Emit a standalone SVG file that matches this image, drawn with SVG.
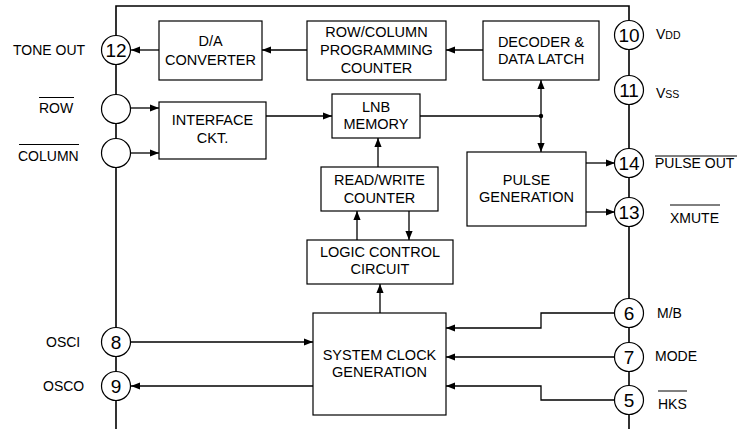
<svg xmlns="http://www.w3.org/2000/svg" width="739" height="429" viewBox="0 0 739 429">
<style>
text{font-family:"Liberation Sans",Arial,sans-serif;fill:#000}
.bt{font-size:14.5px;text-anchor:middle}
.lb{font-size:14px}
.pn{font-size:19px;text-anchor:middle}
.box{fill:#fff;stroke:#000;stroke-width:1.2}
.pin{fill:#fff;stroke:#000;stroke-width:1.2}
.ln{fill:none;stroke:#000;stroke-width:1.3}
.ov{stroke:#000;stroke-width:1}
</style>
<defs>
<marker id="ah" viewBox="0 0 10 8" refX="10" refY="4" markerWidth="9" markerHeight="8" markerUnits="userSpaceOnUse" orient="auto">
<path d="M0,0 L10,4 L0,8 z" fill="#000"/>
</marker>
</defs>
<g id="border" class="ln" style="stroke-width:1.6">
<path d="M116,429 L116,6 L629,6 L629,429"/>
</g>
<g id="connectors" class="ln">
<line x1="159" y1="50" x2="131" y2="50" marker-end="url(#ah)"/>
<line x1="307" y1="50" x2="262" y2="50" marker-end="url(#ah)"/>
<line x1="483" y1="50" x2="446" y2="50" marker-end="url(#ah)"/>
<line x1="131" y1="108" x2="159" y2="108" marker-end="url(#ah)"/>
<line x1="131" y1="153" x2="159" y2="153" marker-end="url(#ah)"/>
<line x1="266" y1="116" x2="332" y2="116" marker-end="url(#ah)"/>
<line x1="420" y1="116" x2="541" y2="116"/>
<line x1="541" y1="116" x2="541" y2="80" marker-end="url(#ah)"/>
<line x1="541" y1="116" x2="541" y2="152" marker-end="url(#ah)"/>
<line x1="378" y1="167" x2="378" y2="138" marker-end="url(#ah)"/>
<line x1="357" y1="240" x2="357" y2="211" marker-end="url(#ah)"/>
<line x1="409" y1="211" x2="409" y2="240" marker-end="url(#ah)"/>
<line x1="380" y1="313" x2="380" y2="284" marker-end="url(#ah)"/>
<line x1="131" y1="342" x2="313" y2="342" marker-end="url(#ah)"/>
<line x1="313" y1="386" x2="131" y2="386" marker-end="url(#ah)"/>
<polyline points="615,313 541,313 541,328 446,328" marker-end="url(#ah)"/>
<line x1="615" y1="357" x2="446" y2="357" marker-end="url(#ah)"/>
<polyline points="615,400 541,400 541,386 446,386" marker-end="url(#ah)"/>
<line x1="586" y1="163" x2="615" y2="163" marker-end="url(#ah)"/>
<line x1="586" y1="212" x2="615" y2="212" marker-end="url(#ah)"/>
<circle cx="541" cy="116" r="2.2" fill="#000" stroke="none"/>
</g>
<g id="da">
<rect class="box" x="159" y="21" width="103" height="59"/>
<text class="bt" x="210.5" y="46">D/A</text>
<text class="bt" x="210.5" y="65">CONVERTER</text>
</g>
<g id="rcpc">
<rect class="box" x="307" y="21" width="139" height="59"/>
<text class="bt" x="376.5" y="37">ROW/COLUMN</text>
<text class="bt" x="376.5" y="55">PROGRAMMING</text>
<text class="bt" x="376.5" y="73">COUNTER</text>
</g>
<g id="decoder">
<rect class="box" x="483" y="21" width="116" height="59"/>
<text class="bt" x="541" y="47">DECODER &amp;</text>
<text class="bt" x="541" y="64">DATA LATCH</text>
</g>
<g id="interface">
<rect class="box" x="159" y="102" width="107" height="57"/>
<text class="bt" x="212.5" y="125">INTERFACE</text>
<text class="bt" x="212.5" y="143">CKT.</text>
</g>
<g id="lnb">
<rect class="box" x="332" y="94" width="88" height="44"/>
<text class="bt" x="376" y="112">LNB</text>
<text class="bt" x="376" y="129">MEMORY</text>
</g>
<g id="rw">
<rect class="box" x="321" y="167" width="117" height="44"/>
<text class="bt" x="379.5" y="185">READ/WRITE</text>
<text class="bt" x="379.5" y="203">COUNTER</text>
</g>
<g id="pulse">
<rect class="box" x="467" y="152" width="119" height="74"/>
<text class="bt" x="526.5" y="185">PULSE</text>
<text class="bt" x="526.5" y="202">GENERATION</text>
</g>
<g id="logic">
<rect class="box" x="307" y="240" width="146" height="44"/>
<text class="bt" x="380" y="257">LOGIC CONTROL</text>
<text class="bt" x="380" y="274">CIRCUIT</text>
</g>
<g id="sysclk">
<rect class="box" x="313" y="313" width="133" height="102"/>
<text class="bt" x="379.5" y="360">SYSTEM CLOCK</text>
<text class="bt" x="379.5" y="377">GENERATION</text>
</g>
<g id="pin12">
<circle class="pin" cx="116" cy="50" r="14.5"/>
<text class="pn" x="116" y="57">12</text>
<text class="lb" x="13" y="55">TONE OUT</text>
</g>
<g id="pinrow">
<circle class="pin" cx="116" cy="109" r="14.5"/>
<text class="lb" x="39" y="113">ROW</text>
<line class="ov" x1="39" y1="97.5" x2="74" y2="97.5"/>
</g>
<g id="pincol">
<circle class="pin" cx="116" cy="153" r="14.5"/>
<text class="lb" x="18" y="161">COLUMN</text>
<line class="ov" x1="19" y1="144.5" x2="79" y2="144.5"/>
</g>
<g id="pin8">
<circle class="pin" cx="116" cy="342" r="14.5"/>
<text class="pn" x="116" y="349">8</text>
<text class="lb" x="46" y="347">OSCI</text>
</g>
<g id="pin9">
<circle class="pin" cx="116" cy="386" r="14.5"/>
<text class="pn" x="116" y="393">9</text>
<text class="lb" x="43" y="391">OSCO</text>
</g>
<g id="pin10">
<circle class="pin" cx="629" cy="35" r="14.5"/>
<text class="pn" x="629" y="42">10</text>
<text class="lb" x="656" y="39">V<tspan font-size="10.5">DD</tspan></text>
</g>
<g id="pin11">
<circle class="pin" cx="629" cy="90" r="14.5"/>
<text class="pn" x="629" y="97">11</text>
<text class="lb" x="656" y="98">V<tspan font-size="10.5">SS</tspan></text>
</g>
<g id="pin14">
<circle class="pin" cx="629" cy="163" r="14.5"/>
<text class="pn" x="629" y="170">14</text>
<text class="lb" x="655" y="168">PULSE OUT</text>
<line class="ov" x1="655" y1="156" x2="737" y2="156"/>
</g>
<g id="pin13">
<circle class="pin" cx="629" cy="212" r="14.5"/>
<text class="pn" x="629" y="219">13</text>
<text class="lb" x="670" y="223">XMUTE</text>
<line class="ov" x1="670" y1="205" x2="720" y2="205"/>
</g>
<g id="pin6">
<circle class="pin" cx="629" cy="313" r="14.5"/>
<text class="pn" x="629" y="320">6</text>
<text class="lb" x="657" y="318">M/B</text>
</g>
<g id="pin7">
<circle class="pin" cx="629" cy="357" r="14.5"/>
<text class="pn" x="629" y="364">7</text>
<text class="lb" x="655" y="361">MODE</text>
</g>
<g id="pin5">
<circle class="pin" cx="629" cy="400" r="14.5"/>
<text class="pn" x="629" y="407">5</text>
<text class="lb" x="658" y="409">HKS</text>
<line class="ov" x1="658" y1="391" x2="687" y2="391"/>
</g>
</svg>
